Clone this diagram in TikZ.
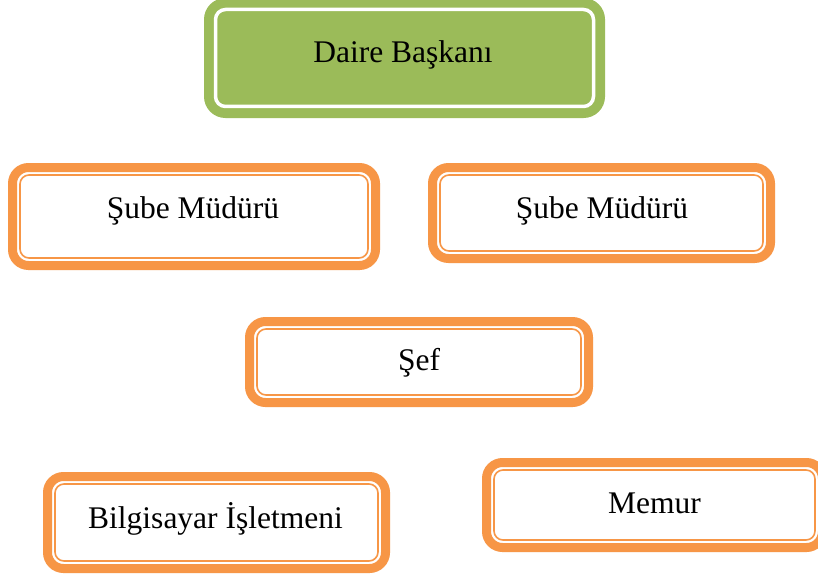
\documentclass[tikz,border=0pt]{standalone}
\usepackage{fontspec}
\setmainfont{Liberation Serif}
\definecolor{boxorange}{HTML}{F79646}
\definecolor{boxgreen}{HTML}{9BBB59}
\begin{document}
\begin{tikzpicture}[x=1pt,y=-1pt,
  obox/.style={draw=boxorange, line width=9pt, rounded corners=16pt, fill=white,
               inner sep=0pt, outer sep=0pt},
  gbox/.style={draw=boxgreen, line width=9pt, rounded corners=17pt, fill=boxgreen,
               inner sep=0pt, outer sep=0pt},
  oinner/.style={draw=boxorange, line width=1.6pt, rounded corners=9pt},
  ginner/.style={draw=white, line width=3.5pt, rounded corners=10pt},
  lbl/.style={anchor=base, inner sep=0pt, font=\fontsize{31.5}{38}\selectfont, text=black}]
\useasboundingbox (0,0) rectangle (818,575);
\fill[white] (0,0) rectangle (818,575);

% Daire Baskani
\node[gbox, minimum width=392pt, minimum height=111pt] (D) at (404.5,58) {};
\draw[ginner] ([shift={(7,7)}]D.north west) rectangle ([shift={(-7,-7)}]D.south east);
\node[lbl] (tD) at (403,63) {Daire Başkanı};

% Sube Muduru left
\node[obox, minimum width=363pt, minimum height=98pt] (S1) at (194,216.5) {};
\draw[oinner] ([shift={(7.5,7.5)}]S1.north west) rectangle ([shift={(-7.5,-7.5)}]S1.south east);
\node[lbl] (tS1) at (193,218) {Şube Müdürü};

% Sube Muduru right
\node[obox, minimum width=338pt, minimum height=91pt] (S2) at (601.5,213) {};
\draw[oinner] ([shift={(7.5,7.5)}]S2.north west) rectangle ([shift={(-7.5,-7.5)}]S2.south east);
\node[lbl] (tS2) at (602,218) {Şube Müdürü};

% Sef
\node[obox, minimum width=339pt, minimum height=81pt] (F) at (419,362) {};
\draw[oinner] ([shift={(7.5,7.5)}]F.north west) rectangle ([shift={(-7.5,-7.5)}]F.south east);
\node[lbl] (tF) at (419,370) {Şef};

% Bilgisayar Isletmeni
\node[obox, minimum width=338pt, minimum height=92pt] (B) at (216.5,522.5) {};
\draw[oinner] ([shift={(7.5,7.5)}]B.north west) rectangle ([shift={(-7.5,-7.5)}]B.south east);
\node[lbl] (tB) at (215.5,528) {Bilgisayar İşletmeni};

% Memur
\node[obox, minimum width=336pt, minimum height=85pt] (M) at (654.5,505) {};
\draw[oinner] ([shift={(7.5,7.5)}]M.north west) rectangle ([shift={(-7.5,-7.5)}]M.south east);
\node[lbl] (tM) at (654.5,513) {Memur};
\end{tikzpicture}
\end{document}
